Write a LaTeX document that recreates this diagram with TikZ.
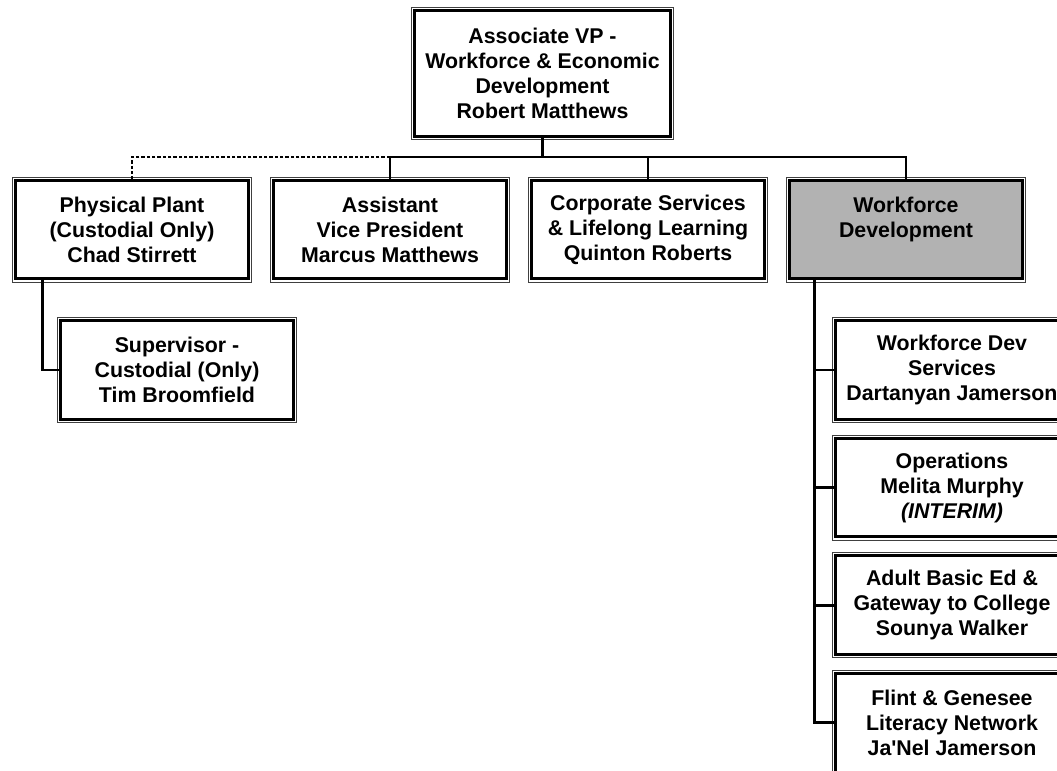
\documentclass[tikz,border=0pt]{standalone}
\usepackage{fontspec}
\setmainfont{Liberation Sans}
\usetikzlibrary{positioning}
\tikzset{
    %Define style for boxes
    unit/.style={
           rectangle,
           preaction={draw=black!75, line width=5.5pt},
           preaction={draw=white, line width=4pt},
           draw=black, line width=2.3pt,
           fill=white,
           outer sep=0pt,
           minimum width=174.5pt,
           minimum height=74pt,
           align=center,
           font=\fontsize{16}{18.75}\selectfont\bfseries},
    % Define connector styles
    link/.style={
           line width=2.1pt},
    dotlink/.style={
           line width=2.1pt,
           dash pattern=on 2.6pt off 1.4pt}
}

\begin{document}
\begin{tikzpicture}[x=0.75pt,y=-0.75pt,node distance=14.2pt]
    \useasboundingbox (0,0) rectangle (1057,771);
    \clip (0,0) rectangle (1057,771);
    \node (avp) [unit,minimum width=192pt,minimum height=94.5pt] at (542.5,73.5)
          {Associate VP -\\Workforce \& Economic\\Development\\Robert Matthews};
    \node (plant) [unit] at (132,229.5)
          {Physical Plant\\(Custodial Only)\\Chad Stirrett};
    \node (asst) [unit] at (390,229.5)
          {Assistant\\Vice President\\Marcus Matthews};
    \node (corp) [unit] at (648,229.5)
          {Corporate Services\\\& Lifelong Learning\\Quinton Roberts};
    \node (wfd) [unit,fill=black!30] at (906,229.5)
          {Workforce\\Development\\\mbox{}};
    \node (super) [unit] at (177,370)
          {Supervisor -\\Custodial (Only)\\Tim Broomfield};
    \node (wfserv) [unit] at (952,370)
          {Workforce Dev\\Services\\Dartanyan Jamerson};
    \node (ops) [unit] [below=of wfserv]
          {Operations\\Melita Murphy\\\textit{(INTERIM)}};
    \node (abe) [unit] [below=of ops]
          {Adult Basic Ed \&\\Gateway to College\\Sounya Walker};
    \node (flint) [unit] [below=of abe]
          {Flint \& Genesee\\Literacy Network\\Ja\textquotesingle Nel Jamerson};
    % bus under the top box
    \coordinate (bus) at (542.5,157);
    \draw[link] (avp.south) -- (bus) -| (wfd.north);
    \draw[link] (bus) -| (asst.north);
    \draw[link] (bus) -| (corp.north);
    \draw[dotlink] (asst.north |- bus) -| (plant.north);
    % left branch
    \draw[link] ([xshift=20.2pt]plant.south west) |- (super.west);
    % right branch
    \coordinate (spine) at ([xshift=18.5pt]wfd.south west);
    \draw[link] (spine) |- (flint.west);
    \draw[link] (spine |- wfserv.west) -- (wfserv.west);
    \draw[link] (spine |- ops.west) -- (ops.west);
    \draw[link] (spine |- abe.west) -- (abe.west);
\end{tikzpicture}
\end{document}
